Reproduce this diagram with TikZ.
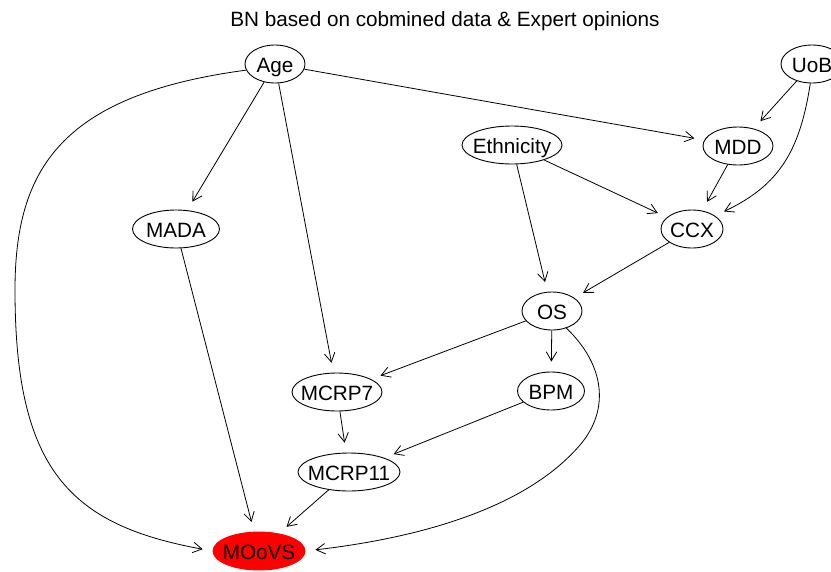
\documentclass[tikz,border=0pt]{standalone}
\usepackage{fontspec}
\setmainfont{Liberation Sans}
\usetikzlibrary{shapes.geometric,arrows.meta}
\newcommand\bnlabel[1]{\makebox[0pt]{#1}}
\begin{document}
\begin{tikzpicture}[x=1pt,y=-1pt,
  bn/.style={ellipse,draw,line width=0.9pt,inner sep=0pt,minimum height=38pt,
    text height=16pt,text depth=0pt,
    font=\fontsize{20.7}{24}\selectfont},
  hot/.style={bn,draw=red,fill=red},
  edge/.style={-{Straight Barb[length=9pt,width=10.5pt]},line width=0.8pt,shorten >=10pt}]
\useasboundingbox (0,0) rectangle (831,571);

% title
\node[font=\fontsize{20.7}{24}\selectfont] (title) at (445,21) {BN based on cobmined data \& Expert opinions};

% variables
\node[bn,minimum width=60pt]  (age)  at (275,64)  {\bnlabel{Age}};
\node[bn,minimum width=62pt]  (uob)  at (812,64)  {\bnlabel{UoB}};
\node[bn,minimum width=100pt] (eth)  at (512,145) {\bnlabel{Ethnicity}};
\node[bn,minimum width=70pt]  (mdd)  at (738,146) {\bnlabel{MDD}};
\node[bn,minimum width=87pt]  (mada) at (176,229) {\bnlabel{MADA}};
\node[bn,minimum width=62pt]  (ccx)  at (692,229) {\bnlabel{CCX}};
\node[bn,minimum width=60pt]  (os)   at (552,311) {\bnlabel{OS}};
\node[bn,minimum width=90pt]  (mcrp7)  at (337,392) {\bnlabel{MCRP7}};
\node[bn,minimum width=67pt]  (bpm)  at (551,391) {\bnlabel{BPM}};
\node[bn,minimum width=102pt] (mcrp11) at (349,472) {\bnlabel{MCRP11}};
\node[hot,minimum width=92pt] (moovs) at (259,551) {\bnlabel{MOoVS}};

% straight dependencies
\draw[edge] (age) -- (mdd);
\draw[edge] (age) -- (mada);
\draw[edge] (age) -- (mcrp7);
\draw[edge] (uob) -- (mdd);
\draw[edge] (eth) -- (ccx);
\draw[edge] (eth) -- (os);
\draw[edge] (mdd) -- (ccx);
\draw[edge] (mada) -- (moovs);
\draw[edge] (ccx) -- (os);
\draw[edge] (os) -- (mcrp7);
\draw[edge] (os) -- (bpm);
\draw[edge] (mcrp7) -- (mcrp11);
\draw[edge] (bpm) -- (mcrp11);
\draw[edge] (mcrp11) -- (moovs);

% curved dependencies
\draw[edge] (age.192) .. controls (60,95) and (15,170) .. (15,290)
  .. controls (15,470) and (70,525) .. (moovs.west);
\draw[edge] (uob.-95) .. controls (800,150) and (780,185) .. (ccx.30);
\draw[edge] (os.-50) .. controls (605,365) and (610,410) .. (580,445)
  .. controls (520,515) and (400,540) .. (moovs.east);
\end{tikzpicture}
\end{document}
